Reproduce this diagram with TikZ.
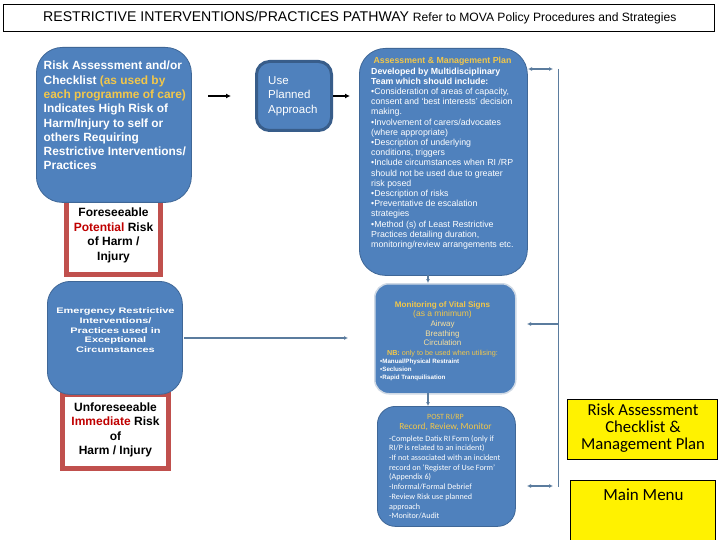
\documentclass[tikz,border=0pt]{standalone}
\usepackage{fontspec}
\setmainfont{Liberation Sans}
\newfontfamily\calfont{Carlito}
\newfontfamily\widefont[FakeStretch=1.37]{Liberation Sans}
\usetikzlibrary{arrows.meta}
\definecolor{bluefill}{HTML}{4F81BD}
\definecolor{blueedge}{HTML}{3F6797}
\definecolor{darkedge}{HTML}{385D8A}
\definecolor{redbox}{HTML}{C0504D}
\definecolor{gold}{HTML}{F2C74A}
\definecolor{linkblue}{HTML}{5B7C9E}
\definecolor{palered}{HTML}{C00000}
\tikzset{
  x=1pt,y=-1pt,
  blue box/.style={draw=blueedge,line width=0.8pt,fill=bluefill,rounded corners=#1},
  blue box/.default=26pt,
  red box/.style={draw=redbox,fill=white,line width=5pt},
  yellow box/.style={draw=black,fill=yellow,line width=0.8pt},
  body/.style={inner sep=0pt,align=left,anchor=north west,text=white,font=\fontsize{7.6}{10.2}\selectfont},
  label/.style={inner sep=0pt,align=center,text=black},
  link/.style={draw=linkblue,line width=1.4pt,-{Latex[length=4pt,width=4pt]}},
  both/.style={draw=linkblue,line width=1.4pt,{Latex[length=4pt,width=4pt]}-{Latex[length=4pt,width=4pt]}},
  blk/.style={draw=black,line width=1.3pt,-{Latex[length=5pt,width=5pt]}}
}
\begin{document}
\begin{tikzpicture}
\useasboundingbox (0,0) rectangle (720,540);
\fill[white] (0,0) rectangle (720,540);
% title
\node[draw=black,line width=0.7pt,minimum width=711pt,minimum height=27pt,inner sep=0pt,anchor=north west] (title) at (3,4) {};
\node[inner sep=0pt,anchor=west,font=\fontsize{14.1}{16}\selectfont] (titletext) at (43,17.5) {RESTRICTIVE INTERVENTIONS/PRACTICES PATHWAY \fontsize{12.1}{14}\selectfont Refer to MOVA Policy Procedures and Strategies};
% red boxes first (under blue)
\node[red box,minimum width=94pt,minimum height=74pt,inner sep=0pt,anchor=north west] (fore) at (64,198) {};
\node[label,font=\bfseries\fontsize{12}{14.7}\selectfont,anchor=north] (foretext) at (113.5,207.5) {Foreseeable\\\textcolor{palered}{Potential} Risk\\of Harm /\\Injury};
\node[red box,minimum width=106pt,minimum height=74pt,inner sep=0pt,anchor=north west] (unfore) at (60,392) {};
\node[label,font=\bfseries\fontsize{12}{14.4}\selectfont,anchor=north] (unforetext) at (115.5,402.5) {Unforeseeable\\\textcolor{palered}{Immediate} Risk\\of\\Harm / Injury};
% blue boxes
\node[blue box,minimum width=155pt,minimum height=155pt,inner sep=0pt,anchor=north west] (risk) at (36,47) {};
\node[body,font=\bfseries\fontsize{11.9}{14.3}\selectfont] (risktext) at (43.5,61) {Risk Assessment and/or\\Checklist \textcolor{gold}{(as used by}\\\textcolor{gold}{each programme of care)}\\Indicates High Risk of\\Harm/Injury to self or\\others Requiring\\Restrictive Interventions/\\Practices};
\node[draw=darkedge,fill=bluefill,line width=3pt,rounded corners=13pt,minimum width=75pt,minimum height=69pt,inner sep=0pt,anchor=north west] (plan) at (255,60) {};
\node[body,font=\fontsize{11.5}{14.7}\selectfont] (plantext) at (268,76) {Use\\Planned\\Approach};
\node[blue box,minimum width=168pt,minimum height=227pt,inner sep=0pt,anchor=north west] (assess) at (359,48) {};
\node[inner sep=0pt,font=\bfseries\fontsize{8.8}{10}\selectfont,text=gold] (assesshead) at (442.5,61) {Assessment \& Management Plan};
\node[body,font=\fontsize{8.8}{10.2}\selectfont] (assesstext) at (371,67.5) {\textbf{Developed by Multidisciplinary}\\\textbf{Team which should include:}\\•Consideration of areas of capacity,\\consent and ‘best interests’ decision\\making.\\•Involvement of carers/advocates\\(where appropriate)\\•Description of underlying\\conditions, triggers\\•Include circumstances when RI /RP\\should not be used due to greater\\risk posed\\•Description of  risks\\•Preventative de escalation\\strategies\\•Method (s) of Least Restrictive\\Practices detailing duration,\\monitoring/review arrangements etc.};
\node[blue box=14pt,draw=white!75!blueedge,line width=1.5pt,minimum width=141pt,minimum height=110pt,inner sep=0pt,anchor=north west] (vital) at (374,283) {};
\node[label,text=gold,anchor=north,font=\fontsize{8}{9.7}\selectfont] (vitalhead) at (442.5,301) {\fontsize{8.1}{9.7}\selectfont\textbf{Monitoring of Vital Signs}\\\fontsize{8.5}{9.7}\selectfont(as a minimum)\\\fontsize{8}{9.7}\selectfont\textcolor{gold!55!white}{Airway}\\\textcolor{gold!55!white}{Breathing}\\\textcolor{gold!55!white}{Circulation}\\\fontsize{7.2}{9.7}\selectfont\textbf{NB:} only to be used when utilising:};
\node[body,font=\bfseries\fontsize{6.2}{8}\selectfont] (vitaltext) at (380,358.5) {•Manual/Physical Restraint\\•Seclusion\\•Rapid Tranquilisation};
\node[blue box=18pt,minimum width=138pt,minimum height=120pt,inner sep=0pt,anchor=north west] (post) at (377,406) {};
\node[label,text=gold,anchor=north,font=\calfont\fontsize{8}{10}\selectfont] (posthead) at (445.5,413.5) {\fontsize{8}{10}\selectfont POST RI/RP\\\fontsize{9.3}{10}\selectfont Record, Review, Monitor};
\node[body,font=\calfont\fontsize{8.1}{9.7}\selectfont] (posttext) at (389,435) {-Complete Datix RI Form (only if\\RI/P is related to an incident)\\-If not associated with an incident\\record on ‘Register of Use Form’\\(Appendix 6)\\-Informal/Formal Debrief\\-Review Risk use planned\\approach\\-Monitor/Audit};
\node[blue box=23pt,minimum width=135pt,minimum height=113pt,inner sep=0pt,anchor=north west] (emerg) at (47,281) {};
\node[label,text=white,font=\widefont\bfseries\fontsize{8}{9.8}\selectfont,anchor=north] (emergtext) at (115.5,307.5) {Emergency Restrictive\\Interventions/\\Practices used in\\Exceptional\\Circumstances};
% yellow
\node[yellow box,minimum width=150pt,minimum height=60pt,inner sep=0pt,anchor=north west] (ychk) at (567,399) {};
\node[label,font=\calfont\fontsize{16.7}{17}\selectfont] (ychktext) at (643,428) {Risk Assessment\\Checklist \&\\Management Plan};
\node[yellow box,minimum width=145pt,minimum height=60pt,inner sep=0pt,anchor=north west] (ymenu) at (570,480) {};
\node[label,font=\calfont\fontsize{17}{17}\selectfont] (ymenutext) at (643.5,495) {Main Menu};
% connectors
\coordinate (a1s) at (208,96); \coordinate (a1e) at (231,96);
\draw[blk] (a1s) -- (a1e);
\coordinate (a2s) at (333,96); \coordinate (a2e) at (350,96);
\draw[blk] (a2s) -- (a2e);
\coordinate (rtop) at (558,69); \coordinate (rbot) at (558,487);
\draw[draw=linkblue,line width=1pt] (rtop) -- (rbot);
\coordinate (b1a) at (528,69); \coordinate (b1b) at (553,69);
\draw[both] (b1a) -- (b1b);
\coordinate (b2a) at (527,486); \coordinate (b2b) at (553,486);
\draw[both] (b2a) -- (b2b);
\coordinate (b3a) at (558,324); \coordinate (b3b) at (527,324);
\draw[link] (b3a) -- (b3b);
\coordinate (c1) at (184,338); \coordinate (c2) at (348,338);
\draw[link] (c1) -- (c2);
\coordinate (d1) at (428,275); \coordinate (d2) at (428,283);
\draw[link] (d1) -- (d2);
\coordinate (e1) at (428,393); \coordinate (e2) at (428,406);
\draw[link] (e1) -- (e2);
\end{tikzpicture}
\end{document}
